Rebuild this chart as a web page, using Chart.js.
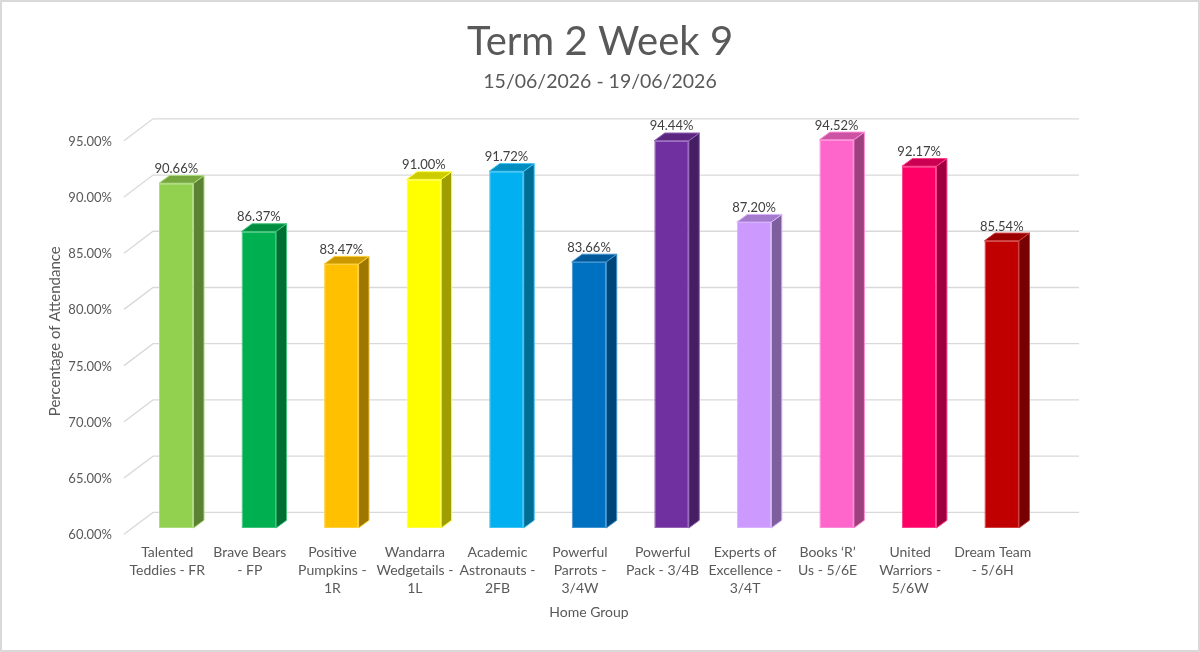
<!DOCTYPE html>
<html>
<head>
<meta charset="utf-8">
<script src="https://cdn.jsdelivr.net/npm/chart.js@4.4.1/dist/chart.umd.min.js"></script>
<style>
  html, body { margin: 0; padding: 0; background: #ffffff; }
  #wrap { width: 1200px; height: 652px; position: relative; }
</style>
</head>
<body>
<div id="wrap"><canvas id="c" width="1200" height="652"></canvas></div>
<script>
// ---- data ----
const categories = [
  ["Talented", "Teddies - FR"],
  ["Brave Bears", "- FP"],
  ["Positive", "Pumpkins -", "1R"],
  ["Wandarra", "Wedgetails -", "1L"],
  ["Academic", "Astronauts -", "2FB"],
  ["Powerful", "Parrots -", "3/4W"],
  ["Powerful", "Pack - 3/4B"],
  ["Experts of", "Excellence -", "3/4T"],
  ["Books \u2018R\u2019", "Us - 5/6E"],
  ["United", "Warriors -", "5/6W"],
  ["Dream Team", "- 5/6H"]
];
const attendance = [90.66, 86.37, 83.47, 91.00, 91.72, 83.66, 94.44, 87.20, 94.52, 92.17, 85.54];
const barColors = ["#92D050", "#00B050", "#FFC000", "#FFFF00", "#00B0F0", "#0070C0",
                   "#7030A0", "#CC99FF", "#FF66CC", "#FF0066", "#C00000"];
const yMin = 60, yMax = 95, yStep = 5;
const chartTitle = "Term 2 Week 9";
const chartSubtitle = "15/06/2026 - 19/06/2026";
const yTitle = "Percentage of Attendance";
const xTitle = "Home Group";

// ---- helpers ----
function hexToRgb(h) {
  const n = parseInt(h.slice(1), 16);
  return [(n >> 16) & 255, (n >> 8) & 255, n & 255];
}
function shade(h, f) {
  const [r, g, b] = hexToRgb(h);
  return `rgb(${Math.round(r * f)},${Math.round(g * f)},${Math.round(b * f)})`;
}
function tint(h, f) {
  const [r, g, b] = hexToRgb(h);
  return `rgb(${Math.round(r + (255 - r) * f)},${Math.round(g + (255 - g) * f)},${Math.round(b + (255 - b) * f)})`;
}

const FONT = "Lato, 'Open Sans', sans-serif";
const DEPTH_X = 10.5, DEPTH_Y = -7.7;

const backgroundPlugin = {
  id: 'bg',
  beforeDraw(chart) {
    const ctx = chart.ctx;
    ctx.save();
    ctx.fillStyle = '#ffffff';
    ctx.fillRect(0, 0, chart.width, chart.height);
    ctx.strokeStyle = '#d9d9d9';
    ctx.lineWidth = 2;
    ctx.strokeRect(1, 1, chart.width - 2, chart.height - 2);
    ctx.restore();
  }
};

const wallPlugin = {
  id: 'wall',
  beforeDatasetsDraw(chart) {
    const ctx = chart.ctx;
    const ys = chart.scales.y;
    const area = chart.chartArea;
    const backL = area.left + 18, backR = area.right + 36, frontX = area.left - 11;
    ctx.save();
    ctx.strokeStyle = '#d9d9d9';
    ctx.lineWidth = 1.3;
    ys.ticks.forEach(t => {
      const p = ys.getPixelForValue(t.value);
      ctx.beginPath();
      ctx.moveTo(frontX, p + 6.3);
      ctx.lineTo(backL, p - 15.6);
      ctx.lineTo(backR, p - 15.6);
      ctx.stroke();
    });
    ctx.restore();
  }
};

const bar3dPlugin = {
  id: 'bar3d',
  afterDatasetsDraw(chart) {
    const ctx = chart.ctx;
    const meta = chart.getDatasetMeta(0);
    const basePix = chart.scales.y.getPixelForValue(yMin);
    ctx.save();
    meta.data.forEach((bar, i) => {
      const { x, y, width } = bar.getProps(['x', 'y', 'width'], true);
      const base = basePix;
      const l = x - width / 2, r = x + width / 2;
      const col = barColors[i];
      const edge = tint(col, 0.25);
      // side face
      ctx.beginPath();
      ctx.moveTo(r, y);
      ctx.lineTo(r + DEPTH_X, y + DEPTH_Y);
      ctx.lineTo(r + DEPTH_X, base + DEPTH_Y);
      ctx.lineTo(r, base);
      ctx.closePath();
      ctx.fillStyle = shade(col, 0.62);
      ctx.fill();
      ctx.strokeStyle = edge;
      ctx.lineWidth = 1;
      ctx.stroke();
      // top face
      ctx.beginPath();
      ctx.moveTo(l, y);
      ctx.lineTo(l + DEPTH_X, y + DEPTH_Y);
      ctx.lineTo(r + DEPTH_X, y + DEPTH_Y);
      ctx.lineTo(r, y);
      ctx.closePath();
      ctx.fillStyle = shade(col, 0.8);
      ctx.fill();
      ctx.stroke();
      // value label
      ctx.fillStyle = '#404040';
      ctx.font = `13px ${FONT}`;
      ctx.textAlign = 'center';
      ctx.textBaseline = 'middle';
      ctx.fillText(attendance[i].toFixed(2) + '%', x, y - 14.4);
    });
    ctx.restore();
  }
};

new Chart(document.getElementById('c'), {
  type: 'bar',
  data: {
    labels: categories,
    datasets: [{
      data: attendance,
      base: yMin,
      yAxisID: 'y',
      backgroundColor: barColors,
      borderColor: barColors.map(c => tint(c, 0.25)),
      borderWidth: 1,
      borderSkipped: false,
      barPercentage: 1,
      categoryPercentage: 0.418
    }]
  },
  options: {
    responsive: false,
    animation: false,
    devicePixelRatio: 1,
    layout: { padding: 0 },
    plugins: {
      legend: { display: false },
      tooltip: { enabled: false },
      title: {
        display: true,
        text: chartTitle,
        color: '#595959',
        font: { family: FONT, size: 40, weight: 'normal', lineHeight: 1.2 },
        padding: { top: 18, bottom: 4 }
      },
      subtitle: {
        display: true,
        text: chartSubtitle,
        color: '#595959',
        font: { family: FONT, size: 19.5, weight: 'normal', lineHeight: 1.2 },
        padding: { top: 0, bottom: 41 }
      }
    },
    scales: {
      x: {
        grid: { display: false, drawTicks: false },
        border: { display: false },
        ticks: {
          color: '#595959',
          font: { family: FONT, size: 14, lineHeight: 1.27 },
          padding: 16,
          labelOffset: -9,
          maxRotation: 0,
          autoSkip: false
        },
        title: {
          display: true,
          text: xTitle,
          color: '#595959',
          font: { family: FONT, size: 14, lineHeight: 1.2 },
          padding: { top: 0, bottom: 31.6 }
        },
        afterFit(scale) { scale.height = 124; }
      },
      y: {
        position: 'left',
        min: yMin,
        max: yMax,
        grid: { display: false, drawTicks: false },
        border: { display: false },
        ticks: {
          stepSize: yStep,
          color: '#595959',
          font: { family: FONT, size: 13 },
          padding: 23,
          labelOffset: 7,
          callback: v => Number(v).toFixed(2) + '%'
        },
        title: {
          display: true,
          text: yTitle,
          color: '#595959',
          font: { family: FONT, size: 15, lineHeight: 1.2 },
          padding: { top: 46, bottom: 0 }
        },
        afterFit(scale) { scale.width = 135; }
      },
      yRight: {
        position: 'right',
        min: yMin,
        max: yMax,
        grid: { display: false, drawTicks: false },
        border: { display: false },
        ticks: { display: false },
        afterFit(scale) { scale.width = 157; }
      }
    }
  },
  plugins: [backgroundPlugin, wallPlugin, bar3dPlugin]
});
</script>
</body>
</html>
